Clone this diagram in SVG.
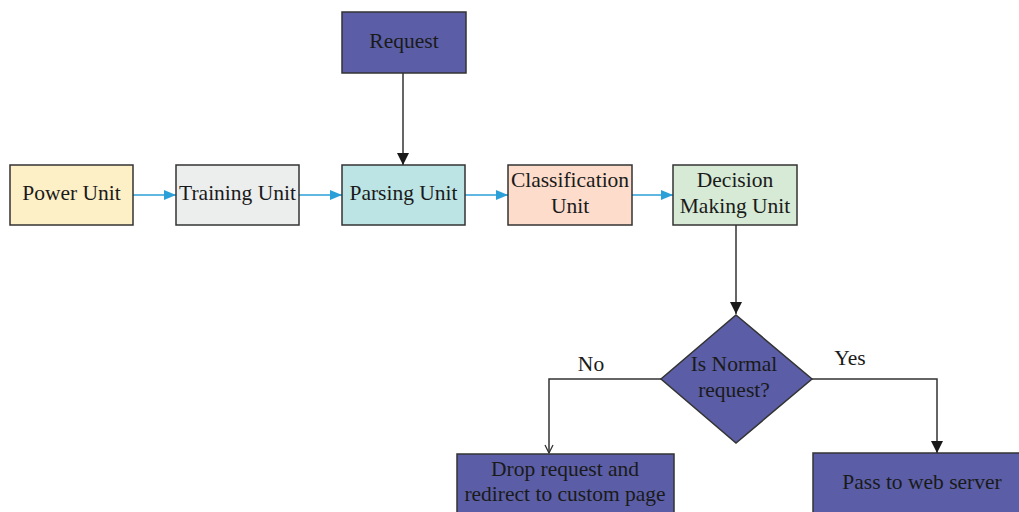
<svg xmlns="http://www.w3.org/2000/svg" width="1019" height="512" viewBox="0 0 1019 512">
<style>
.box{stroke:#333;stroke-width:1.5}
.t{font-family:"Liberation Serif",serif;font-size:21.5px;fill:#1a1a1a;text-anchor:middle}
.blue{stroke:#2b9fd8;stroke-width:1.5;fill:none}
.blk{stroke:#333;stroke-width:1.5;fill:none}
</style>
<defs>
<marker id="ab" markerWidth="12" markerHeight="10" refX="12" refY="5" orient="auto" markerUnits="userSpaceOnUse"><path d="M0,0 L12,5 L0,10 Z" fill="#2b9fd8"/></marker>
<marker id="ak" markerWidth="12" markerHeight="12" refX="12" refY="6" orient="auto" markerUnits="userSpaceOnUse"><path d="M0,0 L12,6 L0,12 Z" fill="#1a1a1a"/></marker>
<marker id="ao" markerWidth="10" markerHeight="10" refX="9" refY="5" orient="auto" markerUnits="userSpaceOnUse"><path d="M1,1 L9,5 L1,9" fill="none" stroke="#333" stroke-width="1.3"/></marker>
</defs>
<rect width="1019" height="512" fill="#fff"/>
<g id="connectors">
<line class="blue" x1="133" y1="195" x2="176" y2="195" marker-end="url(#ab)"/>
<line class="blue" x1="299" y1="195" x2="342" y2="195" marker-end="url(#ab)"/>
<line class="blue" x1="465" y1="195" x2="508" y2="195" marker-end="url(#ab)"/>
<line class="blue" x1="632" y1="195" x2="673" y2="195" marker-end="url(#ab)"/>
<line class="blk" x1="403" y1="73" x2="403" y2="165" marker-end="url(#ak)"/>
<line class="blk" x1="736" y1="225" x2="736" y2="314" marker-end="url(#ak)"/>
<polyline class="blk" points="812,379 937,379 937,453" marker-end="url(#ak)"/>
<polyline class="blk" points="661,379 549,379 549,453" marker-end="url(#ao)"/>
<text class="t" x="591" y="371">No</text>
<text class="t" x="850" y="365">Yes</text>
</g>
<g id="request"><rect class="box" x="342" y="12" width="124" height="61" fill="#5b5ea6"/><text class="t" x="404" y="48">Request</text></g>
<g id="power"><rect class="box" x="10" y="165" width="123" height="60" fill="#fdefc6"/><text class="t" x="71.5" y="200">Power Unit</text></g>
<g id="training"><rect class="box" x="176" y="165" width="123" height="60" fill="#eceeee"/><text class="t" x="237.5" y="200">Training Unit</text></g>
<g id="parsing"><rect class="box" x="342" y="165" width="123" height="60" fill="#bde4e4"/><text class="t" x="403.5" y="200">Parsing Unit</text></g>
<g id="classification"><rect class="box" x="508" y="165" width="124" height="60" fill="#fddccb"/><text class="t" x="570" y="187">Classification</text><text class="t" x="570" y="213">Unit</text></g>
<g id="decision"><rect class="box" x="673" y="165" width="124" height="60" fill="#d6ead5"/><text class="t" x="735" y="187">Decision</text><text class="t" x="735" y="213">Making Unit</text></g>
<g id="isnormal"><polygon class="box" points="736,315 812,379 736,443 661,379" fill="#5b5ea6"/><text class="t" x="734" y="371">Is Normal</text><text class="t" x="734" y="397">request?</text></g>
<g id="drop"><rect class="box" x="457" y="454" width="217" height="70" fill="#5b5ea6"/><text class="t" x="565" y="476">Drop request and</text><text class="t" x="565" y="501">redirect to custom page</text></g>
<g id="pass"><rect class="box" x="813" y="453" width="220" height="70" fill="#5b5ea6"/><text class="t" x="922" y="489">Pass to web server</text></g>
</svg>
